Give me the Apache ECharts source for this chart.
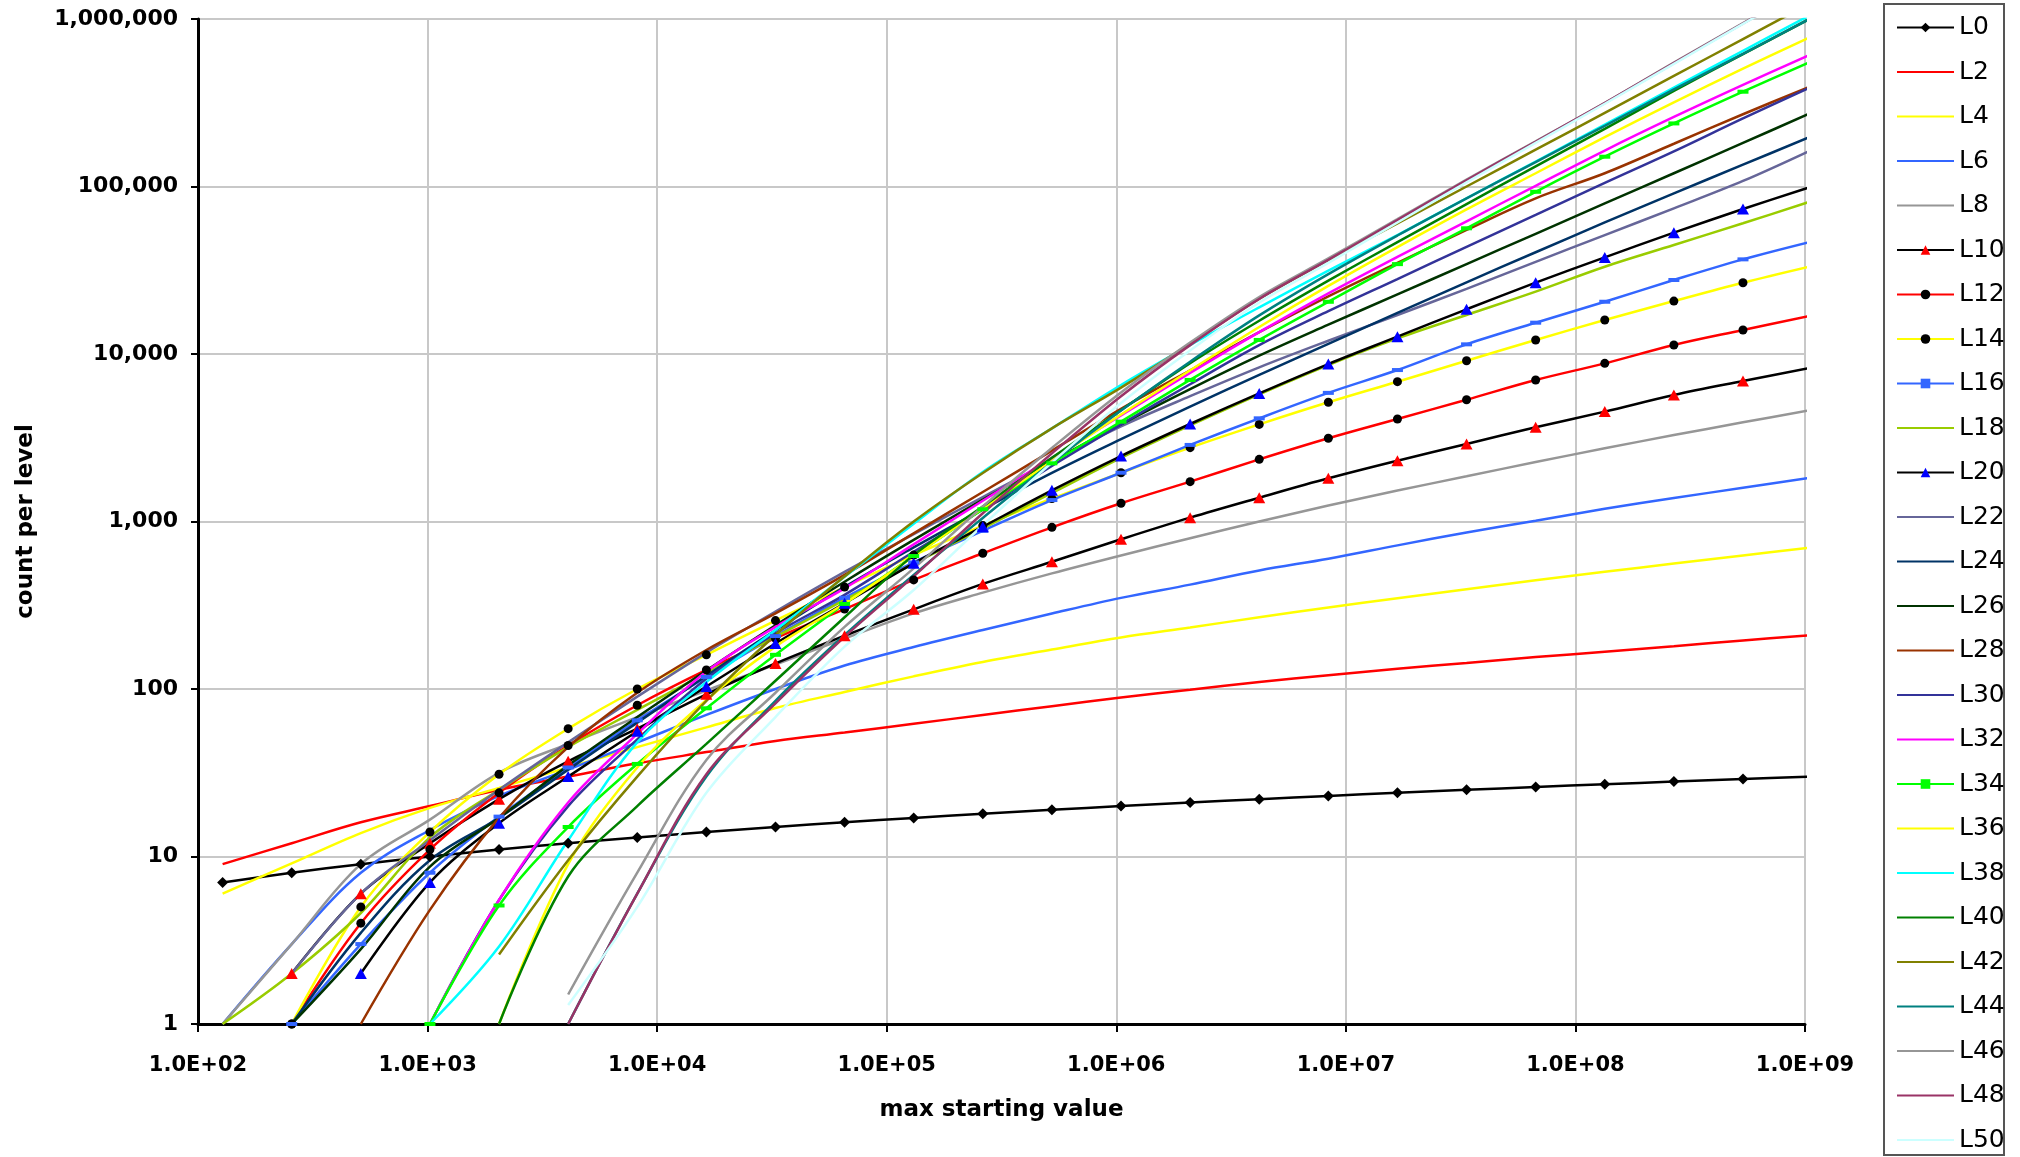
<!DOCTYPE html>
<html>
<head>
<meta charset="utf-8">
<script src="https://cdn.jsdelivr.net/npm/echarts@6/dist/echarts.min.js"></script>
<style>
html,body{margin:0;padding:0;background:#fff;}
#chart{width:2020px;height:1157px;}
</style>
</head>
<body>
<div id="chart"></div>
<script>
// max starting value (x) at each sample
const xs = [128, 256, 512, 1024, 2048, 4096, 8192, 16384, 32768, 65536, 131072, 262144,
  524288, 1048576, 2097152, 4194304, 8388608, 16777216, 33554432, 67108864,
  134217728, 268435456, 536870912, 1073741824];

const L0  = [7,8,9,10,11,12,13,14,15,16,17,18,19,20,21,22,23,24,25,26,27,28,29,30];
const L2  = [9,12,16,20,25,30,36,42,49,55,62,70,79,89,99,110,121,132,143,155,167,180,195,210];
const L4  = [6,9.1,13.8,19.5,25.7,34,45,59,77,96,119,145,172,203,233,268,307,348,394,446,501,561,627,700];
const L6  = [1,3,8,14.4,23,33,48,70,100,138,178,225,282,350,420,510,600,720,860,1010,1190,1380,1590,1830];
const L8  = [1,3,9,16.6,31.6,47,68,98,140,200,283,376,490,627,794,1000,1245,1531,1862,2265,2735,3281,3908,4645];
const L10 = [null,2,6,12,22,37,58,93,142,208,299,424,575,783,1054,1387,1811,2307,2904,3654,4530,5693,6900,8300];
const L12 = [null,1,4,11,24,46,80,130,201,300,448,646,923,1285,1730,2350,3140,4093,5335,6993,8795,11320,13900,17000];
const L14 = [null,1,5,14,31,58,100,160,256,406,630,945,1370,1955,2760,3800,5150,6835,9120,12130,15960,20700,26650,33500];
const L16 = [null,1,3,8,17.3,34,65,118,207,350,570,880,1343,1955,2865,4130,5860,8020,11420,15380,20510,27660,36730,47000];
const L18 = [1,2,4.6,13,25,45,75,125,205,340,560,910,1480,2400,3750,5750,8600,12400,17100,23560,33200,44750,60300,82000];
const L20 = [null,null,2,7,15.8,30,56,103.5,187,325,563,931,1535,2460,3820,5820,8710,12690,18490,26650,37740,53000,73400,100000];
const L22 = [null,2,6,12.5,25,48,90,165,290,500,840,1400,2300,3700,5600,8320,12000,17100,24500,35500,51300,74100,108000,166000];
const L24 = [null,1,3.5,9.5,17,33,63,120,224,407,700,1180,1950,3100,4850,7500,11500,17600,26800,40500,61000,91000,135000,200000];
const L26 = [null,1,2.8,8.7,17,35,68,129,240,437,776,1350,2290,3800,6170,9770,14960,22700,34400,52200,79300,120000,182000,277000];
const L28 = [null,null,1,4.8,17,45,95,171,283,480,850,1500,2650,4700,8000,13500,22100,35000,55000,85000,120000,180000,270000,400000];
const L30 = [null,null,null,1,5.5,20,50,115,215,365,660,1180,2150,3800,6600,11300,18000,28000,43600,67600,105000,162000,255000,395000];
const L32 = [null,null,null,1,5.5,21,54,127,235,399,730,1330,2400,4300,7700,13500,23000,38000,62000,101000,164000,260000,404000,620000];
const L34 = [null,null,null,1,5.1,15,35.7,76.7,160,322,622,1183,2225,3945,7000,12130,20500,34400,56300,93000,150600,238000,368000,560000];
const L36 = [null,null,null,null,1,9,34,86,179,324,620,1200,2300,4350,8000,14500,25500,43500,73000,120000,197000,318000,505000,790000];
const L38 = [null,null,null,1,2.9,12.5,48,110,225,468,970,1977,3600,6530,11300,19000,31500,51300,85100,141000,234000,389000,646000,1070000];
const L40 = [null,null,null,null,1,7.6,20,47,112,268,630,1230,2400,4620,8810,15800,27400,46600,78500,132000,221000,372000,617000,1020000];
const L42 = [null,null,null,null,2.6,9.5,30,85,210,470,1000,1950,3600,6300,11500,21400,36300,60300,100000,166000,275000,457000,759000,1260000];
const L44 = [null,null,null,null,null,1,6,30,85,210,480,1050,2250,4600,9000,17000,30000,51000,85000,140000,230000,380000,620000,1020000];
const L46 = [null,null,null,null,null,1.5,8,37.7,95,235,525,1230,2750,5900,11700,21900,37200,63800,110000,186000,316000,550000,944000,1620000];
const L48 = [null,null,null,null,null,1,6,31,82,205,470,1120,2550,5600,11300,21300,36500,63000,109000,185000,315000,545000,940000,1610000];
const L50 = [null,null,null,null,null,1.3,5,24,68,179,390,950,2250,5100,10500,20300,35000,61000,106000,182000,312000,540000,935000,1600000];

const xTickLabels = ['1.0E+02','1.0E+03','1.0E+04','1.0E+05','1.0E+06','1.0E+07','1.0E+08','1.0E+09'];

const seriesDefs = [
  {name:'L0',  v:L0,  line:'#000000', mark:'#000000', sym:'diamond', size:[11,11]},
  {name:'L2',  v:L2,  line:'#FF0000'},
  {name:'L4',  v:L4,  line:'#FFFF00'},
  {name:'L6',  v:L6,  line:'#3366FF'},
  {name:'L8',  v:L8,  line:'#969696'},
  {name:'L10', v:L10, line:'#000000', mark:'#FF0000', sym:'triangle', size:[12,11]},
  {name:'L12', v:L12, line:'#FF0000', mark:'#000000', sym:'circle', size:9},
  {name:'L14', v:L14, line:'#FFFF00', mark:'#000000', sym:'circle', size:9},
  {name:'L16', v:L16, line:'#3366FF', mark:'#3366FF', sym:'rect', size:[11,4]},
  {name:'L18', v:L18, line:'#99CC00'},
  {name:'L20', v:L20, line:'#000000', mark:'#0000FF', sym:'triangle', size:[12,11]},
  {name:'L22', v:L22, line:'#666699'},
  {name:'L24', v:L24, line:'#003366'},
  {name:'L26', v:L26, line:'#003300'},
  {name:'L28', v:L28, line:'#993300'},
  {name:'L30', v:L30, line:'#333399'},
  {name:'L32', v:L32, line:'#FF00FF'},
  {name:'L34', v:L34, line:'#00FF00', mark:'#00FF00', sym:'rect', size:[11,4]},
  {name:'L36', v:L36, line:'#FFFF00'},
  {name:'L38', v:L38, line:'#00FFFF'},
  {name:'L40', v:L40, line:'#008000'},
  {name:'L42', v:L42, line:'#808000'},
  {name:'L44', v:L44, line:'#008080'},
  {name:'L46', v:L46, line:'#969696'},
  {name:'L48', v:L48, line:'#993366'},
  {name:'L50', v:L50, line:'#CCFFFF'}
];

const series = seriesDefs.map(d => ({
  name: d.name,
  type: 'line',
  smooth: 0.35,
  clip: true,
  data: xs.map((x, i) => [x, d.v[i]]).filter(p => p[1] != null),
  symbol: d.sym || 'none',
  symbolSize: d.size || 0,
  showSymbol: !!d.sym,
  lineStyle: {color: d.line, width: 2.5},
  itemStyle: {color: d.mark || d.line, borderWidth: 0},
  emphasis: {disabled: true},
  animation: false
}));

const legendData = seriesDefs.map(d => d.sym
  ? {name: d.name, itemStyle: {color: d.mark, opacity: 1}}
  : {name: d.name, itemStyle: {opacity: 0}});

const chart = echarts.init(document.getElementById('chart'), null, {renderer: 'canvas'});
chart.setOption({
  backgroundColor: '#ffffff',
  animation: false,
  grid: {left: 198, right: 215, top: 19, bottom: 133, show: true, borderColor: '#808080', borderWidth: 2},
  xAxis: {
    type: 'log', logBase: 10, min: 100, max: 1e9,
    name: 'max starting value', nameLocation: 'middle', nameGap: 75,
    nameTextStyle: {fontFamily: 'DejaVu Sans', fontWeight: 'bold', fontSize: 23, color: '#000'},
    axisLine: {show: true, onZero: false, lineStyle: {color: '#000', width: 3}},
    axisTick: {show: true, length: 8, lineStyle: {color: '#000', width: 2}},
    axisLabel: {margin: 31, fontFamily: 'DejaVu Sans', fontWeight: 'bold', fontSize: 21, color: '#000',
      formatter: v => { const e = Math.round(Math.log10(v)); return xTickLabels[e - 2] || ''; }},
    splitLine: {show: true, lineStyle: {color: '#c8c8c8', width: 2}},
    minorTick: {show: false}
  },
  yAxis: {
    type: 'log', logBase: 10, min: 1, max: 1e6,
    name: 'count per level', nameLocation: 'middle', nameGap: 160, nameRotate: 90,
    nameTextStyle: {fontFamily: 'DejaVu Sans', fontWeight: 'bold', fontSize: 23, color: '#000'},
    axisLine: {show: true, lineStyle: {color: '#000', width: 3}},
    axisTick: {show: true, length: 7, lineStyle: {color: '#000', width: 2}},
    axisLabel: {margin: 20, fontFamily: 'DejaVu Sans', fontWeight: 'bold', fontSize: 22, color: '#000',
      formatter: v => Math.round(v).toLocaleString('en-US')},
    splitLine: {show: true, lineStyle: {color: '#c8c8c8', width: 2}}
  },
  legend: {
    orient: 'vertical', left: 1896, top: 15, padding: 0,
    itemWidth: 57, itemHeight: 12, itemGap: 19.5,
    textStyle: {fontFamily: 'DejaVu Sans', fontSize: 25, color: '#000', lineHeight: 25},
    data: legendData,
    selectedMode: false
  },
  graphic: [{
    type: 'rect', left: 1883, top: 3, z: -1,
    shape: {width: 120, height: 1151},
    style: {fill: '#fff', stroke: '#555', lineWidth: 2}
  }],
  series: series
});
</script>
</body>
</html>
